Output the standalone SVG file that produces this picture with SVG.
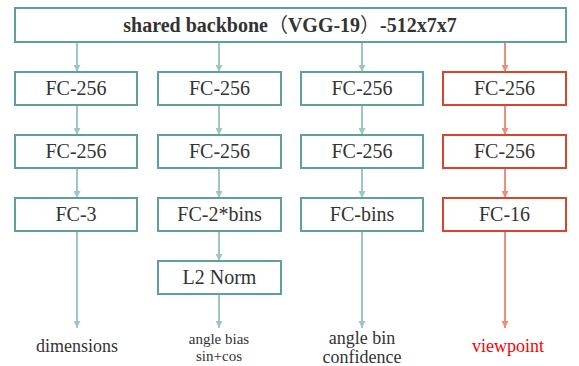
<svg xmlns="http://www.w3.org/2000/svg" width="579" height="366" viewBox="0 0 579 366">
<style>
  .box{fill:#fff;stroke:#5f9f9e;stroke-width:2}
  .rbox{fill:#fff;stroke:#d6452d;stroke-width:2}
  .t{font-size:20px;fill:#333;text-anchor:middle}
  .title{font-weight:bold}
  .lbl{font-size:18px;fill:#333;text-anchor:middle}
  .sm{font-size:15px}
  .red{fill:#ff0000}
  .c{stroke:#9dc7c6;stroke-width:2;fill:none;marker-end:url(#ah)}
  .rc{stroke:#ee8e80;stroke-width:2;fill:none;marker-end:url(#rah)}
</style>
<defs>
  <marker id="ah" viewBox="0 0 6 6" refX="6" refY="3" markerWidth="3.5" markerHeight="3.5" markerUnits="strokeWidth" orient="auto">
    <path d="M0,0 L6,3 L0,6 Z" fill="#9dc7c6"/>
  </marker>
  <marker id="rah" viewBox="0 0 6 6" refX="6" refY="3" markerWidth="3.5" markerHeight="3.5" markerUnits="strokeWidth" orient="auto">
    <path d="M0,0 L6,3 L0,6 Z" fill="#ee8e80"/>
  </marker>
</defs>
<g id="connectors">
  <line class="c" x1="77" y1="42" x2="77" y2="72"/>
  <line class="c" x1="219" y1="42" x2="219" y2="72"/>
  <line class="c" x1="362" y1="42" x2="362" y2="72"/>
  <line class="rc" x1="505" y1="42" x2="505" y2="72"/>
  <line class="c" x1="77" y1="105" x2="77" y2="135"/>
  <line class="c" x1="219" y1="105" x2="219" y2="135"/>
  <line class="c" x1="362" y1="105" x2="362" y2="135"/>
  <line class="rc" x1="505" y1="105" x2="505" y2="135"/>
  <line class="c" x1="77" y1="168" x2="77" y2="198"/>
  <line class="c" x1="219" y1="168" x2="219" y2="198"/>
  <line class="c" x1="362" y1="168" x2="362" y2="198"/>
  <line class="rc" x1="505" y1="168" x2="505" y2="198"/>
  <line class="c" x1="219" y1="231" x2="219" y2="261"/>
  <line class="c" x1="77" y1="231" x2="77" y2="328"/>
  <line class="c" x1="219" y1="294" x2="219" y2="328"/>
  <line class="c" x1="362" y1="231" x2="362" y2="328"/>
  <line class="rc" x1="505" y1="231" x2="505" y2="328"/>
</g>
<g font-family="Liberation Serif, Times New Roman, Times, Noto Serif, DejaVu Serif, Tinos, FreeSerif, serif">
<g id="backbone">
  <rect class="box" x="15" y="8" width="551" height="34"/>
  <text class="t title" x="290" y="32">shared backbone<tspan font-family="Noto Sans CJK SC, sans-serif" font-weight="normal">（</tspan>VGG-19<tspan font-family="Noto Sans CJK SC, sans-serif" font-weight="normal">）</tspan>-512x7x7</text>
</g>
<g id="c1r1"><rect class="box" x="15" y="72" width="122" height="33"/><text class="t" x="76" y="95">FC-256</text></g>
<g id="c2r1"><rect class="box" x="158" y="72" width="123" height="33"/><text class="t" x="219.5" y="95">FC-256</text></g>
<g id="c3r1"><rect class="box" x="301" y="72" width="122" height="33"/><text class="t" x="362" y="95">FC-256</text></g>
<g id="c4r1"><rect class="rbox" x="443" y="72" width="123" height="33"/><text class="t" x="504.5" y="95">FC-256</text></g>
<g id="c1r2"><rect class="box" x="15" y="135" width="122" height="33"/><text class="t" x="76" y="158">FC-256</text></g>
<g id="c2r2"><rect class="box" x="158" y="135" width="123" height="33"/><text class="t" x="219.5" y="158">FC-256</text></g>
<g id="c3r2"><rect class="box" x="301" y="135" width="122" height="33"/><text class="t" x="362" y="158">FC-256</text></g>
<g id="c4r2"><rect class="rbox" x="443" y="135" width="123" height="33"/><text class="t" x="504.5" y="158">FC-256</text></g>
<g id="c1r3"><rect class="box" x="15" y="198" width="122" height="33"/><text class="t" x="76" y="221">FC-3</text></g>
<g id="c2r3"><rect class="box" x="158" y="198" width="123" height="33"/><text class="t" x="219.5" y="221">FC-2*bins</text></g>
<g id="c3r3"><rect class="box" x="301" y="198" width="122" height="33"/><text class="t" x="362" y="221">FC-bins</text></g>
<g id="c4r3"><rect class="rbox" x="443" y="198" width="123" height="33"/><text class="t" x="504.5" y="221">FC-16</text></g>
<g id="l2norm"><rect class="box" x="158" y="261" width="123" height="33"/><text class="t" x="219.5" y="284">L2 Norm</text></g>
<g id="out-dimensions"><text class="lbl" x="77" y="352">dimensions</text></g>
<g id="out-angle-bias"><text class="lbl sm" x="219" y="344">angle bias</text><text class="lbl sm" x="219" y="361">sin+cos</text></g>
<g id="out-angle-bin"><text class="lbl" x="362" y="344">angle bin</text><text class="lbl" x="362" y="363">confidence</text></g>
<g id="out-viewpoint"><text class="lbl red" x="508" y="352">viewpoint</text></g>
</g>
</svg>
